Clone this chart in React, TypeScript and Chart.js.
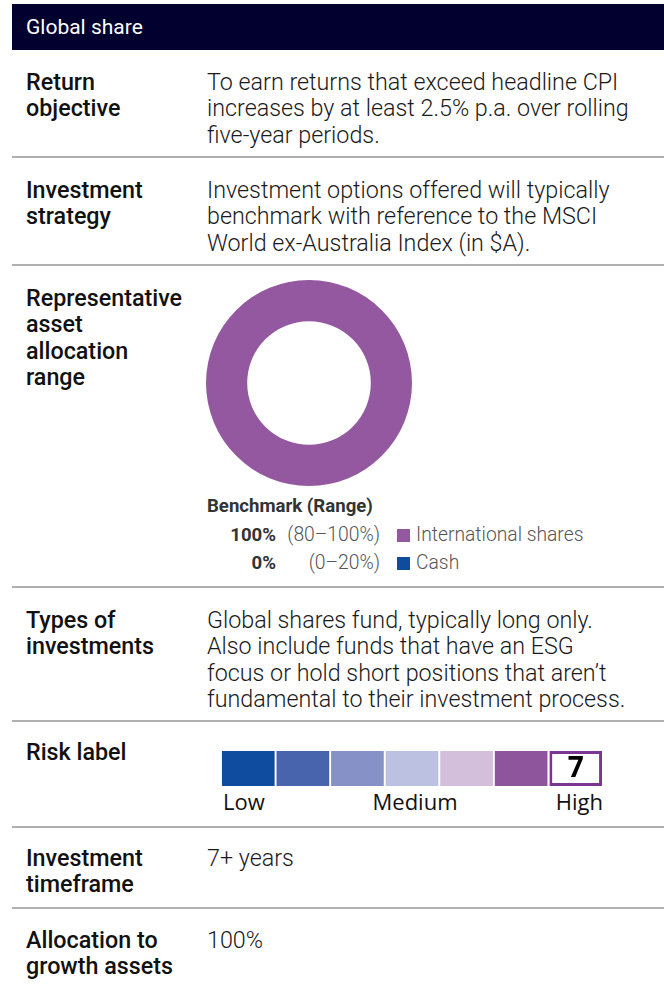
import React, { useEffect, useRef } from "react";
import { Chart, registerables } from "chart.js";

Chart.register(...registerables);

// ---- Data ----
const allocationCategories = ["International shares", "Cash"];
const allocationBenchmark = [100, 0];
const allocationRanges = ["(80–100%)", "(0–20%)"];
const allocationColors = ["#9358A0", "#0F4C9E"];

const riskLevels = ["1", "2", "3", "4", "5", "6", "7"];
const riskValues = [1, 1, 1, 1, 1, 1, 1];
const riskColors = ["#0F4CA0", "#4864AD", "#8591C7", "#BCC1E2", "#D3BEDB", "#8E559D", "#FFFFFF"];
const riskSelected = 7;
const riskTickLabels = ["Low", "Medium", "High"];

const rows = [
  { label: ["Return", "objective"], value: ["To earn returns that exceed headline CPI", "increases by at least 2.5% p.a. over rolling", "five-year periods."], top: 69 },
  { label: ["Investment", "strategy"], value: ["Investment options offered will typically", "benchmark with reference to the MSCI", "World ex-Australia Index (in $A)."], top: 177 },
  { label: ["Representative", "asset", "allocation", "range"], value: [], top: 285 },
  { label: ["Types of", "investments"], value: ["Global shares fund, typically long only.", "Also include funds that have an ESG", "focus or hold short positions that aren’t", "fundamental to their investment process."], top: 607 },
  { label: ["Risk label"], value: [], top: 739 },
  { label: ["Investment", "timeframe"], value: ["7+ years"], top: 845 },
  { label: ["Allocation to", "growth assets"], value: ["100%"], top: 927 },
];
const dividers = [157, 265, 587, 721, 827, 908];

const FONT = "Roboto, sans-serif";
const RISK_FONT = "'Open Sans', 'Noto Sans', sans-serif";
const LH = 26.3;
const FS = 23.3;

function Donut() {
  const ref = useRef<HTMLCanvasElement>(null);
  useEffect(() => {
    if (!ref.current) return;
    const chart = new Chart(ref.current, {
      type: "doughnut",
      data: {
        labels: allocationCategories,
        datasets: [
          {
            data: allocationBenchmark,
            backgroundColor: allocationColors,
            borderWidth: 0,
          },
        ],
      },
      options: {
        animation: false,
        responsive: false,
        maintainAspectRatio: false,
        cutout: "60%",
        layout: { padding: 0 },
        plugins: { legend: { display: false }, tooltip: { enabled: false } },
      },
    });
    return () => chart.destroy();
  }, []);
  return <canvas ref={ref} width={206} height={206} style={{ position: "absolute", left: 206, top: 280, width: 206, height: 206 }} />;
}

function RiskBar() {
  const ref = useRef<HTMLCanvasElement>(null);
  useEffect(() => {
    if (!ref.current) return;
    const labelPlugin = {
      id: "riskLabel",
      afterDatasetsDraw(chart: any) {
        const meta = chart.getDatasetMeta(0);
        const el = meta.data[riskSelected - 1];
        if (!el) return;
        const ctx = chart.ctx;
        ctx.save();
        ctx.fillStyle = "#000";
        ctx.font = "bold 28px 'Open Sans', 'Noto Sans', sans-serif";
        ctx.textAlign = "center";
        ctx.textBaseline = "middle";
        ctx.fillText(String(riskSelected), el.x, (el.y + el.base) / 2 + 1);
        ctx.restore();
      },
    };
    const chart = new Chart(ref.current, {
      type: "bar",
      data: {
        labels: riskLevels,
        datasets: [
          {
            data: riskValues,
            backgroundColor: riskColors,
            borderColor: riskColors.map((c, i) => (i === riskSelected - 1 ? "#7B3594" : c)),
            borderWidth: riskColors.map((c, i) => (i === riskSelected - 1 ? 3 : 0)),
            categoryPercentage: 1,
            barPercentage: 0.965,
            borderSkipped: false,
          },
        ],
      },
      options: {
        animation: false,
        responsive: false,
        maintainAspectRatio: false,
        layout: { padding: 0 },
        scales: {
          x: { display: false },
          y: { display: false, min: 0, max: 1 },
        },
        plugins: { legend: { display: false }, tooltip: { enabled: false } },
      },
      plugins: [labelPlugin],
    });
    return () => chart.destroy();
  }, []);
  return <canvas ref={ref} width={382} height={35} style={{ position: "absolute", left: 221, top: 751, width: 382, height: 35 }} />;
}

export default function App() {
  return (
    <div style={{ position: "absolute", left: 0, top: 0, width: 664, height: 985, background: "#fff", fontFamily: FONT, overflow: "hidden" }}>
      <div style={{ position: "absolute", left: 12, top: 4, width: 652, height: 46, background: "#02002F" }} />
      <div style={{ position: "absolute", left: 26, top: 4, height: 46, lineHeight: "46px", color: "#fff", fontSize: 21, fontWeight: 400 }}>Global share</div>
      {dividers.map((y, i) => (
        <div key={i} style={{ position: "absolute", left: 12, top: y - 1, width: 652, height: 2, background: "#B0B0B0" }} />
      ))}
      {rows.map((r, i) => (
        <React.Fragment key={i}>
          <div style={{ position: "absolute", left: 26, top: r.top, fontSize: FS, fontWeight: 500, color: "#111", lineHeight: LH + "px", whiteSpace: "nowrap" }}>
            {r.label.map((l, j) => (
              <div key={j}>{l}</div>
            ))}
          </div>
          {r.value.length > 0 && (
            <div style={{ position: "absolute", left: 207, top: r.top, fontSize: FS, fontWeight: 300, color: "#1a1a1a", lineHeight: LH + "px", whiteSpace: "nowrap" }}>
              {r.value.map((l, j) => (
                <div key={j}>{l}</div>
              ))}
            </div>
          )}
        </React.Fragment>
      ))}
      <Donut />
      <div style={{ position: "absolute", left: 207, top: 494, fontSize: 18.6, fontWeight: 700, color: "#333", lineHeight: "24px" }}>Benchmark (Range)</div>
      {allocationCategories.map((c, i) => (
        <div key={c} style={{ position: "absolute", left: 0, top: 523 + i * 28, height: 24, lineHeight: "24px", fontSize: 19.3, width: 664 }}>
          <span style={{ position: "absolute", right: 664 - 276, fontWeight: 700, fontSize: 18.6, color: "#333" }}>{allocationBenchmark[i]}%</span>
          <span style={{ position: "absolute", right: 664 - 380, fontWeight: 300, color: "#555" }}>{allocationRanges[i]}</span>
          <span style={{ position: "absolute", left: 397, top: 6, width: 13, height: 13, background: allocationColors[i] }} />
          <span style={{ position: "absolute", left: 416, fontWeight: 300, color: "#555" }}>{c}</span>
        </div>
      ))}
      <RiskBar />
      <div style={{ position: "absolute", left: 223, top: 788, fontSize: 22, fontFamily: RISK_FONT, color: "#111", lineHeight: "26px" }}>{riskTickLabels[0]}</div>
      <div style={{ position: "absolute", left: 315, width: 200, textAlign: "center", top: 788, fontSize: 22, fontFamily: RISK_FONT, color: "#111", lineHeight: "26px" }}>{riskTickLabels[1]}</div>
      <div style={{ position: "absolute", right: 664 - 603, top: 788, fontSize: 22, fontFamily: RISK_FONT, color: "#111", lineHeight: "26px" }}>{riskTickLabels[2]}</div>
    </div>
  );
}
